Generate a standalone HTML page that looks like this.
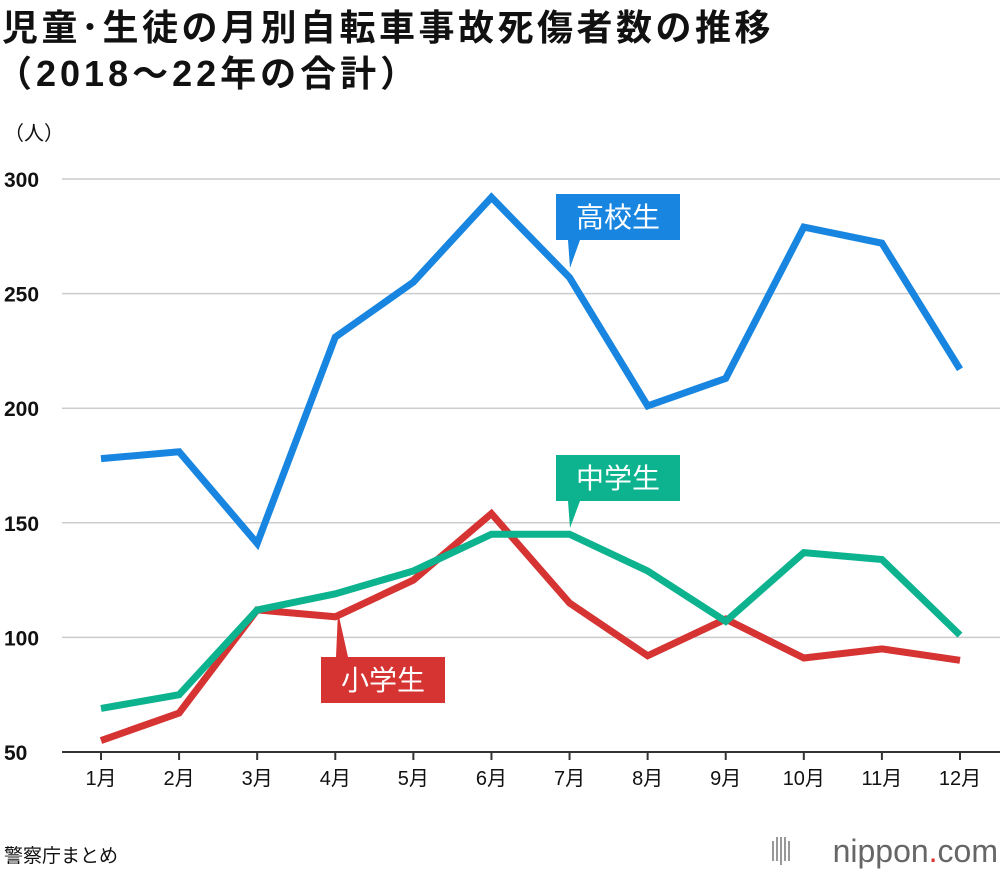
<!DOCTYPE html>
<html><head><meta charset="utf-8">
<style>
body{margin:0;width:1000px;height:872px;background:#fff;font-family:"Liberation Sans","Noto Sans CJK JP",sans-serif;overflow:hidden;position:relative}
.t{position:absolute;left:2px;font-weight:bold;font-size:36px;color:#111;line-height:1;white-space:nowrap;letter-spacing:3.5px}
</style></head><body>
<div class="t" style="top:10px">児童･生徒の月別自転車事故死傷者数の推移</div>
<div class="t" style="top:56px;left:-4px;letter-spacing:4px">（2018～22年の合計）</div>
<svg id="chart" width="1000" height="872" style="position:absolute;left:0;top:0"></svg>
<script>
const months=["1月","2月","3月","4月","5月","6月","7月","8月","9月","10月","11月","12月"];
const high=[178,181,141,231,255,292,257,201,213,279,272,217];
const mid=[69,75,112,119,129,145,145,129,107,137,134,101];
const elem=[55,67,112,109,125,154,115,92,108,91,95,90];
const yTicks=[50,100,150,200,250,300];
const svg=document.getElementById('chart');
const NS="http://www.w3.org/2000/svg";
const X=i=>101+i*(960-101)/11;
const Y=v=>752-(v-50)*(752-179)/250;
function mk(t,a,p){const e=document.createElementNS(NS,t);for(const k in a)e.setAttribute(k,a[k]);(p||svg).appendChild(e);return e;}
yTicks.forEach(v=>{
 const l=mk('line',{x1:62,x2:1000,y1:Y(v),y2:Y(v),stroke:v===50?'#333':'#ccc','stroke-width':v===50?2:1.5});
 
 
 const t=mk('text',{x:4,y:Y(v)+8,'font-size':21,fill:'#111','font-weight':'bold'});t.textContent=v;
 
 
});
const u=mk('text',{x:4,y:140,'font-size':20,fill:'#111'});u.textContent='（人）';


months.forEach((m,i)=>{
 const tk=mk('line',{x1:X(i),x2:X(i),y1:752,y2:760,stroke:'#333','stroke-width':2});
 
 
 const t=mk('text',{x:X(i),y:785,'font-size':20,fill:'#111','text-anchor':'middle'});t.textContent=m;
 
 
});
function series(d,c,n){
 const p=mk('polyline',{points:d.map((v,i)=>X(i)+','+Y(v)).join(' '),fill:'none',stroke:c,'stroke-width':7,'stroke-linejoin':'miter','stroke-linecap':'butt'});
 
 
}
series(elem,'#d63333','line-elementary');
series(mid,'#0db38e','line-junior-high');
series(high,'#1886e0','line-high-school');
function label(txt,c,x,y,px,py,n){
 const g=mk('g',{});
 
 
 mk('rect',{x:x,y:y,width:124,height:46,fill:c},g);
 const up=py<y;
 const by=up?y:y+46;
 mk('polygon',{points:`${px-2},${by} ${px+10},${by} ${px},${py}`,fill:c},g);
 const t=mk('text',{x:x+62,y:y+33,'font-size':28,fill:'#fff','text-anchor':'middle'},g);t.textContent=txt;
}
label('高校生','#1886e0',556,194,570,268,'label-high-school');
label('中学生','#0db38e',556,455,570,528,'label-junior-high');
label('小学生','#d63333',321,657,338,612,'label-elementary');
const s=mk('text',{x:4,y:862,'font-size':19,fill:'#111'});s.textContent='警察庁まとめ';


const lg=mk('text',{x:998,y:862,'font-size':32,fill:'#666','text-anchor':'end'});


lg.innerHTML='nippon<tspan fill="#e03030">.</tspan>com';
for(let i=0;i<5;i++){const b=mk('rect',{x:772+i*4,y:841-(i%2?4:0)-(i==2?4:0),width:2,height:20+(i%2?4:0)+(i==2?8:0),fill:'#999'});
 
 }
</script>
</body></html>
